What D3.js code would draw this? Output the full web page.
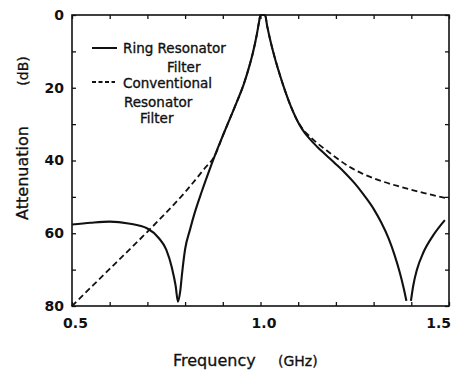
<!DOCTYPE html>
<html>
<head>
<meta charset="utf-8">
<script src="https://cdn.jsdelivr.net/npm/d3@7"></script>
<style>
  html, body { margin: 0; padding: 0; background: #fff; }
  svg { display: block; }
  text { font-family: "DejaVu Sans", sans-serif; fill: #111; }
</style>
</head>
<body>
<svg id="chart" width="451" height="372"></svg>
<script>
// ---- Data ----
const ringFreq = [0.50, 0.55, 0.60, 0.65, 0.70, 0.73, 0.75, 0.765, 0.775, 0.781, 0.787, 0.792, 0.80, 0.813, 0.826, 0.844, 0.864, 0.884, 0.90, 0.92, 0.94, 0.955, 0.97, 0.98, 0.99, 0.996, 1.0, 1.012, 1.018, 1.025, 1.038, 1.05, 1.065, 1.08, 1.095, 1.11, 1.13, 1.15, 1.175, 1.20, 1.225, 1.25, 1.275, 1.30, 1.32, 1.34, 1.355, 1.37, 1.38, 1.387, 1.393, 1.399, 1.405, 1.415, 1.432, 1.458, 1.489];
const ringAtt  = [57.6, 57.1, 56.8, 57.3, 58.7, 61.3, 64.5, 69.5, 74.5, 78.8, 76.0, 71.0, 64.4, 59.0, 54.2, 48.6, 42.8, 37.3, 33.2, 28.2, 23.2, 19.2, 14.2, 10.3, 5.5, 2.0, 0, 0, 3.2, 6.5, 11.8, 16.0, 20.8, 25.0, 28.5, 31.3, 34.0, 36.2, 38.6, 41.0, 43.5, 46.3, 49.6, 53.3, 57.0, 61.5, 65.8, 71.0, 75.2, 78.6, null, 78.6, 74.5, 70.0, 65.3, 60.6, 56.4];

const convFreq = [0.50, 0.60, 0.70, 0.75, 0.80, 0.85, 0.88, 0.90, 0.92, 0.94, 0.955, 0.97, 0.98, 0.99, 0.996, 1.0, 1.012, 1.018, 1.025, 1.038, 1.05, 1.065, 1.08, 1.095, 1.11, 1.13, 1.15, 1.175, 1.20, 1.237, 1.27, 1.308, 1.37, 1.432, 1.50];
const convAtt  = [80.0, 69.8, 59.6, 54.3, 48.7, 42.4, 38.4, 33.2, 28.2, 23.2, 19.2, 14.2, 10.3, 5.5, 2.0, 0, 0, 3.2, 6.5, 11.8, 16.0, 20.8, 25.0, 28.5, 31.1, 33.3, 35.2, 37.2, 39.2, 41.8, 43.6, 45.2, 47.2, 48.9, 50.5];

const xTicks = [0.5, 0.6, 0.7, 0.8, 0.9, 1.0, 1.1, 1.2, 1.3, 1.4, 1.5];
const xTickLabels = ["0.5", "", "", "", "", "1.0", "", "", "", "", "1.5"];
const yTicks = [0, 10, 20, 30, 40, 50, 60, 70, 80];
const yTickLabels = ["0", "", "20", "", "40", "", "60", "", "80"];

const legendLabels = [["Ring Resonator", "Filter"], ["Conventional", "Resonator", "Filter"]];

// ---- Layout ----
const W = 451, H = 372;
const margin = { left: 72, top: 15, right: 2, bottom: 66 };
const svg = d3.select("#chart");

const x = d3.scaleLinear().domain([0.5, 1.5]).range([margin.left, W - margin.right]);
const y = d3.scaleLinear().domain([0, 80]).range([margin.top, H - margin.bottom]);

const ink = "#111";

// frame
svg.append("rect")
  .attr("x", x(0.5)).attr("y", y(0))
  .attr("width", x(1.5) - x(0.5)).attr("height", y(80) - y(0))
  .attr("fill", "none").attr("stroke", ink).attr("stroke-width", 1.6);

function styleAxis(g) {
  g.select(".domain").remove();
  g.selectAll(".tick line").attr("stroke", ink).attr("stroke-width", 1.3);
  g.selectAll(".tick text").attr("fill", ink);
}

// bottom axis
const gx = svg.append("g").attr("transform", `translate(0,${y(80)})`)
  .call(d3.axisBottom(x).tickValues(xTicks).tickSizeInner(-4).tickSizeOuter(0).tickPadding(12)
    .tickFormat((d, i) => xTickLabels[i]));
styleAxis(gx);
gx.selectAll(".tick text").attr("font-size", 14).attr("font-weight", "bold").attr("dx", 3);
gx.selectAll(".tick text").filter((d, i) => i === xTicks.length - 1)
  .attr("text-anchor", "end").attr("dx", 1.5);

// top axis
const gt = svg.append("g").attr("transform", `translate(0,${y(0)})`)
  .call(d3.axisTop(x).tickValues(xTicks).tickSizeInner(-4).tickSizeOuter(0).tickFormat(""));
styleAxis(gt);

// left axis
const gy = svg.append("g").attr("transform", `translate(${x(0.5)},0)`)
  .call(d3.axisLeft(y).tickValues(yTicks).tickSizeInner(-4).tickSizeOuter(0).tickPadding(8)
    .tickFormat((d, i) => yTickLabels[i]));
styleAxis(gy);
gy.selectAll(".tick text").attr("font-size", 14).attr("font-weight", "bold");

// right axis
const gr = svg.append("g").attr("transform", `translate(${x(1.5)},0)`)
  .call(d3.axisRight(y).tickValues(yTicks).tickSizeInner(-4).tickSizeOuter(0).tickFormat(""));
styleAxis(gr);

// curves
const ringData = ringFreq.map((f, i) => ({ f, a: ringAtt[i] }));
const convData = convFreq.map((f, i) => ({ f, a: convAtt[i] }));

const line = d3.line()
  .defined(d => d.a !== null)
  .x(d => x(d.f)).y(d => y(d.a))
  .curve(d3.curveMonotoneX);

svg.append("path").datum(convData)
  .attr("d", line).attr("fill", "none")
  .attr("stroke", ink).attr("stroke-width", 1.8).attr("stroke-dasharray", "6,3.5");

svg.append("path").datum(ringData)
  .attr("d", line).attr("fill", "none")
  .attr("stroke", ink).attr("stroke-width", 2.1);

// legend
const leg = svg.append("g");
leg.append("line").attr("x1", 92).attr("x2", 117).attr("y1", 48).attr("y2", 48)
  .attr("stroke", ink).attr("stroke-width", 2);
leg.append("line").attr("x1", 92).attr("x2", 115).attr("y1", 82).attr("y2", 82)
  .attr("stroke", ink).attr("stroke-width", 1.8).attr("stroke-dasharray", "4,2.5");

const legPos = [[[123, 53], [167, 72]], [[123, 88], [124, 107], [140, 123]]];
legendLabels.forEach((lines, s) => {
  lines.forEach((t, j) => {
    leg.append("text").attr("x", legPos[s][j][0]).attr("y", legPos[s][j][1])
      .attr("font-size", 13.5).attr("stroke", ink).attr("stroke-width", 0.35)
      .text(t);
  });
});

// axis titles
svg.append("text").attr("x", 173).attr("y", 366).attr("font-size", 16)
  .attr("stroke", ink).attr("stroke-width", 0.3).text("Frequency");
svg.append("text").attr("x", 278).attr("y", 366).attr("font-size", 14)
  .attr("stroke", ink).attr("stroke-width", 0.3).text("(GHz)");

svg.append("text").attr("transform", `translate(28,173) rotate(-90)`)
  .attr("text-anchor", "middle").attr("font-size", 16)
  .attr("stroke", ink).attr("stroke-width", 0.3).text("Attenuation");
svg.append("text").attr("transform", `translate(28,71) rotate(-90)`)
  .attr("text-anchor", "middle").attr("font-size", 14)
  .attr("stroke", ink).attr("stroke-width", 0.3).text("(dB)");
</script>
</body>
</html>
